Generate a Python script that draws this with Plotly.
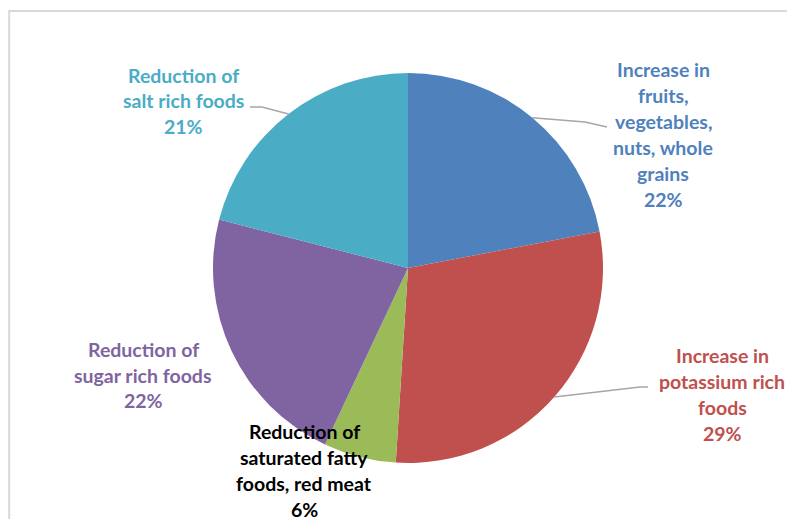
import math
import plotly.graph_objects as go

# ---- data ----
categories = [
    "Increase in fruits, vegetables, nuts, whole grains",
    "Increase in potassium rich foods",
    "Reduction of saturated fatty foods, red meat",
    "Reduction of sugar rich foods",
    "Reduction of salt rich foods",
]
values = [22, 29, 6, 22, 21]
label_lines = [
    ["Increase in", "fruits,", "vegetables,", "nuts, whole", "grains"],
    ["Increase in", "potassium rich", "foods"],
    ["Reduction of", "saturated fatty", "foods, red meat"],
    ["Reduction of", "sugar rich foods"],
    ["Reduction of", "salt rich foods"],
]
colors = ["#4F81BD", "#C0504D", "#9BBB59", "#8064A2", "#4BACC6"]
label_colors = ["#4F81BD", "#C0504D", "#000000", "#8064A2", "#4BACC6"]

# ---- layout (screen pixels) ----
W, H = 795, 519
OFF = 8  # page body margin
cx, cy, R = 408, 268, 195
label_centers = [(663, 134.5), (722, 394.5), (304, 470.5), (143, 375), (183, 101)]
leader_ends = [[(585, 122), (607, 127)], [(640, 387), (648, 387)], None, None, [(262, 107), (250, 107)]]
line_h = 25.8


def px(x):
    return (x - OFF) / W


def py(y):
    return 1 - (y - OFF) / H


fig = go.Figure()
fig.add_trace(go.Pie(
    labels=categories, values=values, sort=False, direction="clockwise", rotation=0,
    marker=dict(colors=colors, line=dict(width=0)), textinfo="none", hoverinfo="label+percent",
    showlegend=False,
    domain=dict(x=[px(cx - R), px(cx + R)], y=[py(cy + R), py(cy - R)]),
))

total = sum(values)
cum = 0
shapes = [dict(type="rect", xref="paper", yref="paper", x0=1.2 / W, y0=py(11), x1=1.05, y1=-0.05,
               line=dict(color="#D9D9D9", width=2), fillcolor="rgba(0,0,0,0)", layer="below")]
annotations = []
for i, v in enumerate(values):
    pct = round(100 * v / total)
    mid = (cum + v / 2) / total * 2 * math.pi
    cum += v
    ex, ey = cx + R * math.sin(mid), cy - R * math.cos(mid)
    lines = label_lines[i] + [f"{pct}%"]
    lx, ly = label_centers[i]
    n = len(lines)
    for j, t in enumerate(lines):
        yy = ly + (j - (n - 1) / 2) * line_h
        annotations.append(dict(
            x=px(lx), y=py(yy), xref="paper", yref="paper", text=f"<b>{t}</b>", showarrow=False,
            xanchor="center", yanchor="middle",
            font=dict(family="Lato", size=19.5, color=label_colors[i]),
        ))
    if leader_ends[i]:
        pts = [(ex, ey)] + leader_ends[i]
        path = "M " + " L ".join(f"{px(a)},{py(b)}" for a, b in pts)
        shapes.append(dict(type="path", xref="paper", yref="paper", path=path,
                           line=dict(color="#A6A6A6", width=1.5)))

fig.update_layout(
    width=W, height=H, margin=dict(l=0, r=0, t=0, b=0),
    paper_bgcolor="white", plot_bgcolor="white",
    shapes=shapes, annotations=annotations,
)
fig.write_html("out.html")
